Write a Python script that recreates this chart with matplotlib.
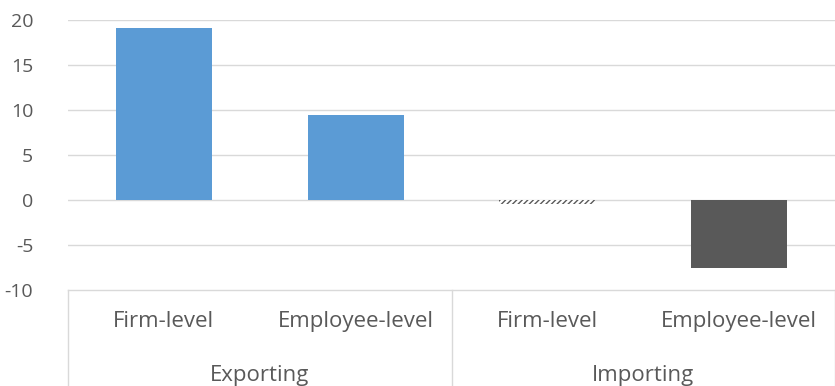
import matplotlib.pyplot as plt
from matplotlib.transforms import blended_transform_factory

# values by group / level
groups = ["Exporting", "Importing"]
levels = ["Firm-level", "Employee-level", "Firm-level", "Employee-level"]
values = [19.1, 9.4, -0.4, -7.6]
colors = ["#5b9bd5", "#5b9bd5", "white", "#595959"]
hatches = [None, None, "//////", None]
yticks = [-10, -5, 0, 5, 10, 15, 20]

plt.rcParams["font.family"] = ["Open Sans", "DejaVu Sans"]
txt = "#595959"
grid = "#d9d9d9"

fig = plt.figure(figsize=(8.35, 3.86), dpi=100)
ax = fig.add_axes([68 / 835, 1 - 290 / 386, 767 / 835, 270 / 386])

x = range(len(values))
for xi, v, c, h in zip(x, values, colors, hatches):
    if h:
        ax.bar(xi, v, width=0.5, color=c, hatch=h, edgecolor="#595959", linewidth=0, zorder=3)
    else:
        ax.bar(xi, v, width=0.5, color=c, zorder=3)

ax.set_xlim(-0.5, len(values) - 0.5)
ax.set_ylim(-10, 20)
ax.set_yticks(yticks)
ax.set_yticklabels([str(t) for t in yticks], fontsize=14, color=txt)
ax.tick_params(axis="y", length=0, pad=25)
ax.set_xticks([])
for t in yticks[1:]:
    ax.axhline(t, color=grid, linewidth=1, zorder=0)
for s in ["top", "right", "left"]:
    ax.spines[s].set_visible(False)
ax.spines["bottom"].set_color(grid)
ax.spines["bottom"].set_linewidth(1)

trans = blended_transform_factory(ax.transData, ax.transAxes)
# level labels and group labels under the axis
for xi, lab in zip(x, levels):
    ax.text(xi, -0.118, lab, transform=trans, ha="center", va="center",
            fontsize=16, color=txt)
for gi, g in enumerate(groups):
    ax.text(gi * 2 + 0.5, -0.315, g, transform=trans, ha="center", va="center",
            fontsize=16, color=txt)
# separators between groups
for xb in [-0.5, 1.5, 3.5]:
    ax.plot([xb, xb], [0, -0.4], transform=trans, color=grid, linewidth=1,
            clip_on=False)

fig.savefig("out.png", dpi=100)
